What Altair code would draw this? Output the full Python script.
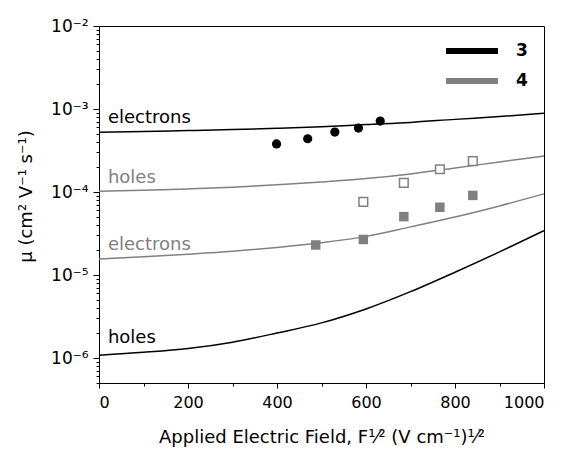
import math
import altair as alt
import pandas as pd

# ---- data ----
field = [0, 100, 200, 300, 400, 500, 600, 700, 800, 900, 1000]
fit_3_electrons = [5.25e-4, 5.35e-4, 5.5e-4, 5.65e-4, 5.85e-4, 6.1e-4, 6.5e-4, 6.9e-4, 7.5e-4, 8.1e-4, 8.87e-4]
fit_4_holes = [1.02e-4, 1.05e-4, 1.09e-4, 1.14e-4, 1.22e-4, 1.32e-4, 1.45e-4, 1.65e-4, 1.95e-4, 2.3e-4, 2.72e-4]
fit_4_electrons = [1.56e-5, 1.66e-5, 1.78e-5, 1.93e-5, 2.15e-5, 2.45e-5, 2.92e-5, 3.8e-5, 5.0e-5, 6.8e-5, 9.5e-5]
fit_3_holes = [1.08e-6, 1.17e-6, 1.3e-6, 1.55e-6, 2.0e-6, 2.65e-6, 3.9e-6, 6.3e-6, 1.08e-5, 1.9e-5, 3.42e-5]

pts_3_e_x = [399, 469, 530, 583, 632]
pts_3_e_y = [3.79e-4, 4.38e-4, 5.28e-4, 5.9e-4, 7.16e-4]
pts_4_h_x = [594, 685, 766, 840]
pts_4_h_y = [7.6e-5, 1.29e-4, 1.88e-4, 2.36e-4]
pts_4_e_x = [487, 594, 685, 766, 840]
pts_4_e_y = [2.3e-5, 2.68e-5, 5.05e-5, 6.55e-5, 9.1e-5]

label_text = ["electrons", "holes", "electrons", "holes"]
label_x = [20, 20, 20, 20]
label_y = [6.84e-4, 1.27e-4, 2.0e-5, 1.5e-6]
label_color = ["#000000", "#808080", "#808080", "#000000"]

molecules = ["3", "4"]
mol_colors = ["#000000", "#808080"]

FONT = "DejaVu Sans"
GRAY = "#808080"

# ---- tables ----
rows = []
for mol, car, ys in [("3", "electrons", fit_3_electrons), ("4", "holes", fit_4_holes),
                     ("4", "electrons", fit_4_electrons), ("3", "holes", fit_3_holes)]:
    for x, y in zip(field, ys):
        rows.append({"x": x, "mu": y, "molecule": mol, "carrier": car})
lines_df = pd.DataFrame(rows)
p3e = pd.DataFrame({"x": pts_3_e_x, "mu": pts_3_e_y})
p4h = pd.DataFrame({"x": pts_4_h_x, "mu": pts_4_h_y})
p4e = pd.DataFrame({"x": pts_4_e_x, "mu": pts_4_e_y})
lab_df = pd.DataFrame({"t": label_text, "x": label_x, "mu": label_y, "c": label_color})

# y ticks: every k*10^d in the domain
ymin, ymax = 5e-7, 1e-2
yvals = []
for d in range(-7, -1):
    for k in range(1, 10):
        v = float(f"{k}e{d}")
        if ymin <= v <= ymax:
            yvals.append(v)
lg = "log(datum.value)/LN10"
major = f"abs({lg} - round({lg})) < 1e-6"
sup = {-2: "10⁻²", -3: "10⁻³", -4: "10⁻⁴", -5: "10⁻⁵", -6: "10⁻⁶"}
lab_expr = "''"
for e, s in sup.items():
    lab_expr = f"round({lg}) == {e} ? '{s}' : ({lab_expr})"
lab_expr = f"({major}) ? ({lab_expr}) : ''"

xvals = list(range(0, 1001, 100))

xscale = alt.Scale(domain=[0, 1000], nice=False)
yscale = alt.Scale(type="log", domain=[ymin, ymax], nice=False)

xenc = alt.X("x:Q", scale=xscale, axis=alt.Axis(
    values=xvals, labelExpr="datum.value % 200 == 0 ? datum.label : ''",
    tickSize={"condition": {"test": "datum.value % 200 == 0", "value": 5}, "value": 3},
    title="Applied Electric Field, F¹⁄² (V cm⁻¹)¹⁄²", titlePadding=18, titleFontSize=18,
    labelPadding=6, grid=False, format="d"))
yenc = alt.Y("mu:Q", scale=yscale, axis=alt.Axis(
    values=yvals, labelExpr=lab_expr, labelFontSize=17,
    tickSize={"condition": {"test": major, "value": 6}, "value": 3},
    title="μ (cm² V⁻¹ s⁻¹)", titleFontSize=18, titlePadding=15, titleY=170,
    labelPadding=5, grid=False))

lines = alt.Chart(lines_df).mark_line(strokeWidth=1.5, interpolate="monotone").encode(
    x=xenc, y=yenc,
    color=alt.Color("molecule:N", scale=alt.Scale(domain=molecules, range=mol_colors),
                    legend=alt.Legend(orient="none", legendX=357, legendY=9, title=None,
                                      symbolType="M-2,0L2,0", symbolStrokeWidth=6, symbolSize=676,
                                      labelFontSize=17, labelFontWeight="bold", labelFont=FONT,
                                      labelColor="black", labelOffset=28, rowPadding=2, padding=0)),
    detail="carrier:N",
)

circles = alt.Chart(p3e).mark_point(shape="circle", filled=True, color="black", size=85, opacity=1).encode(
    x="x:Q", y="mu:Q")
open_sq = alt.Chart(p4h).mark_point(shape="square", filled=False, stroke=GRAY, fill="white",
                                     strokeWidth=1.5, size=75, opacity=1).encode(x="x:Q", y="mu:Q")
fill_sq = alt.Chart(p4e).mark_point(shape="square", filled=True, color=GRAY, size=90, opacity=1).encode(
    x="x:Q", y="mu:Q")

labels = alt.Chart(lab_df).mark_text(align="left", baseline="alphabetic", fontSize=18, font=FONT).encode(
    x="x:Q", y="mu:Q", text="t:N", color=alt.Color("c:N", scale=None))

chart = alt.layer(lines, labels, circles, open_sq, fill_sq).properties(
    width=445, height=357,
    autosize=alt.AutoSizeParams(type="none"),
    padding={"left": 91, "top": 18, "right": 17, "bottom": 65},
).configure_view(stroke="black", strokeWidth=1).configure_axis(
    domainColor="black", tickColor="black", labelColor="black", titleColor="black",
    labelFont=FONT, titleFont=FONT, labelFontSize=16, titleFontSize=16, titleFontWeight="normal",
)

chart.save("out.html", embed_options={"renderer": "svg", "actions": False})
